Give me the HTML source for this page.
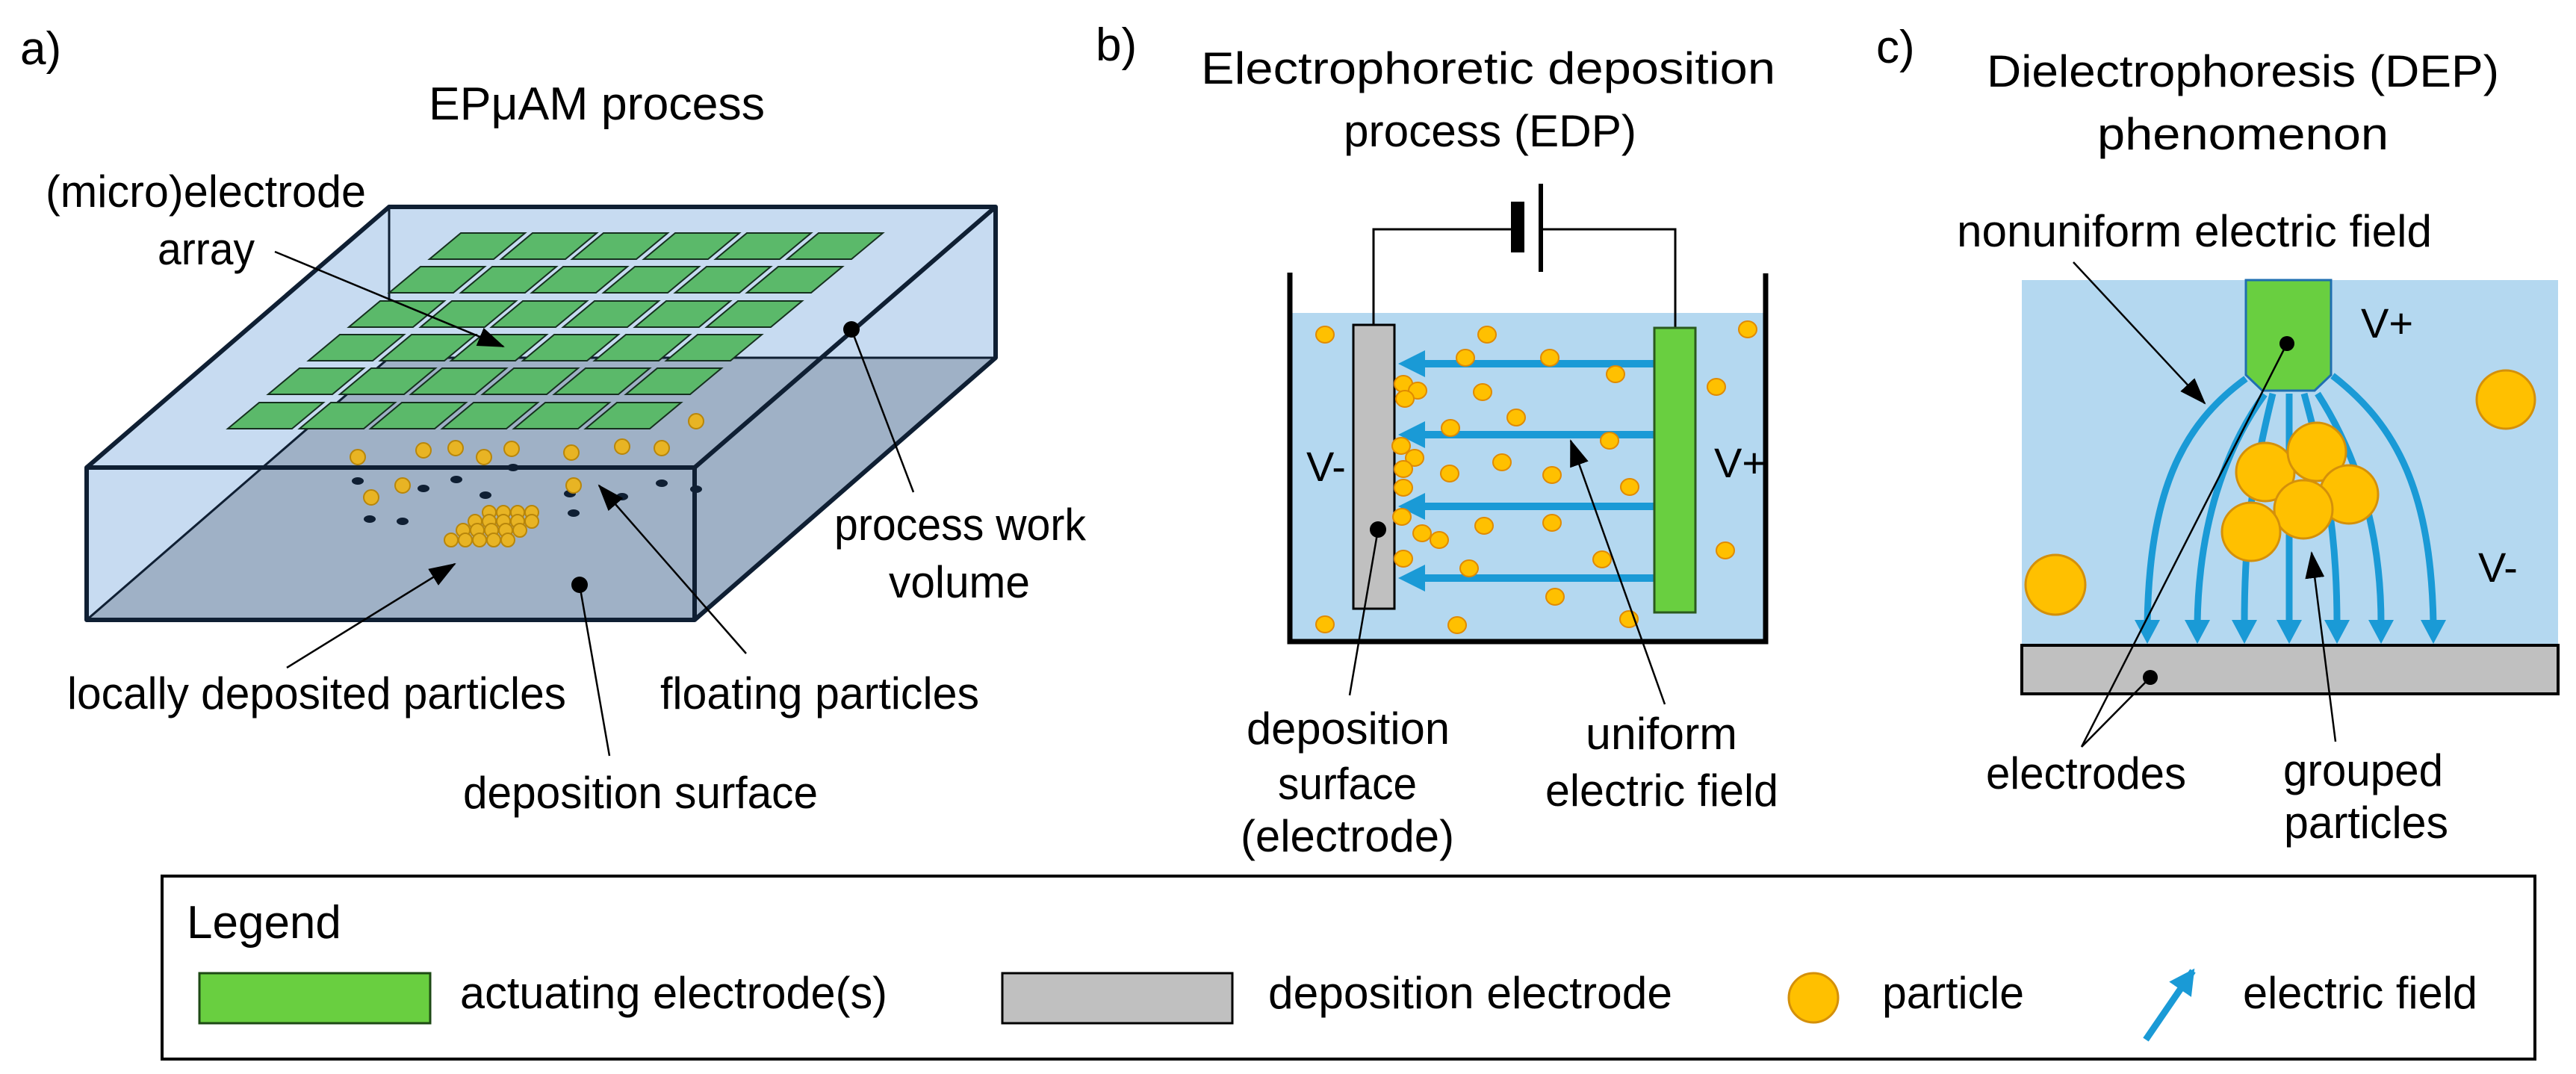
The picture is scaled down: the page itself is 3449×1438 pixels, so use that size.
<!DOCTYPE html>
<html><head><meta charset="utf-8"><style>
html,body{margin:0;padding:0;background:#fff;}
svg{display:block;}
text{font-family:"Liberation Sans",sans-serif;fill:#000;}
</style></head><body>
<svg width="3449" height="1438" viewBox="0 0 3449 1438" xmlns="http://www.w3.org/2000/svg">
<defs>
<marker id="ah" markerUnits="userSpaceOnUse" markerWidth="40" markerHeight="30" refX="34" refY="13" orient="auto">
<path d="M0,0 L36,13 L0,26 Z" fill="#000"/></marker>
<marker id="bh" markerUnits="userSpaceOnUse" markerWidth="40" markerHeight="40" refX="30" refY="18" orient="auto">
<path d="M0,0 L34,18 L0,36 Z" fill="#1a9ad6"/></marker>
</defs>

<!-- ========== Panel a ========== -->
<text x="27" y="86" font-size="62">a)</text>
<text x="574" y="160" font-size="62" textLength="450" lengthAdjust="spacingAndGlyphs">EPμAM process</text>

<polygon points="116,626 521,277 1333,277 1333,479 930,830 116,830" fill="#c7dbf1"/>
<polygon points="116,830 930,830 1333,479 521,479" fill="#9fb1c6"/>
<line x1="521" y1="479" x2="1333" y2="479" stroke="#0f1f33" stroke-width="3"/>
<line x1="116" y1="830" x2="521" y2="479" stroke="#0f1f33" stroke-width="3"/>
<line x1="521" y1="277" x2="521" y2="420" stroke="#0f1f33" stroke-width="3"/>

<g fill="#5bb96a" stroke="#16301f" stroke-width="2">
<!-- grid generated rows -->
<polygon points="617,312 703,312 661,347 575,347"/><polygon points="713,312 799,312 757,347 671,347"/><polygon points="808,312 894,312 852,347 766,347"/><polygon points="904,312 990,312 948,347 862,347"/><polygon points="1000,312 1086,312 1044,347 958,347"/><polygon points="1096,312 1182,312 1140,347 1054,347"/>
<polygon points="563,357 649,357 607,392 521,392"/><polygon points="659,357 745,357 703,392 617,392"/><polygon points="754,357 840,357 798,392 712,392"/><polygon points="850,357 936,357 894,392 808,392"/><polygon points="946,357 1032,357 990,392 904,392"/><polygon points="1042,357 1128,357 1086,392 1000,392"/>
<polygon points="509,403 595,403 553,438 467,438"/><polygon points="605,403 691,403 649,438 563,438"/><polygon points="700,403 786,403 744,438 658,438"/><polygon points="796,403 882,403 840,438 754,438"/><polygon points="892,403 978,403 936,438 850,438"/><polygon points="988,403 1074,403 1032,438 946,438"/>
<polygon points="455,448 541,448 499,483 413,483"/><polygon points="551,448 637,448 595,483 509,483"/><polygon points="646,448 732,448 690,483 604,483"/><polygon points="742,448 828,448 786,483 700,483"/><polygon points="838,448 924,448 882,483 796,483"/><polygon points="934,448 1020,448 978,483 892,483"/>
<polygon points="401,493 487,493 445,528 359,528"/><polygon points="497,493 583,493 541,528 455,528"/><polygon points="592,493 678,493 636,528 550,528"/><polygon points="688,493 774,493 732,528 646,528"/><polygon points="784,493 870,493 828,528 742,528"/><polygon points="880,493 966,493 924,528 838,528"/>
<polygon points="347,539 433,539 391,574 305,574"/><polygon points="443,539 529,539 487,574 401,574"/><polygon points="538,539 624,539 582,574 496,574"/><polygon points="634,539 720,539 678,574 592,574"/><polygon points="730,539 816,539 774,574 688,574"/><polygon points="826,539 912,539 870,574 784,574"/>
</g>

<g fill="#0f1f33">
<ellipse cx="479" cy="644" rx="8" ry="5"/><ellipse cx="567" cy="654" rx="8" ry="5"/><ellipse cx="611" cy="642" rx="8" ry="5"/><ellipse cx="650" cy="663" rx="8" ry="5"/><ellipse cx="763" cy="661" rx="8" ry="5"/><ellipse cx="833" cy="665" rx="8" ry="5"/><ellipse cx="886" cy="647" rx="8" ry="5"/><ellipse cx="932" cy="655" rx="8" ry="5"/><ellipse cx="495" cy="695" rx="8" ry="5"/><ellipse cx="539" cy="698" rx="8" ry="5"/><ellipse cx="768" cy="687" rx="8" ry="5"/><ellipse cx="687" cy="626" rx="8" ry="5"/>
</g>
<g fill="#e8b424" stroke="#b8860b" stroke-width="2">
<circle cx="479" cy="612" r="10"/><circle cx="567" cy="603" r="10"/><circle cx="610" cy="600" r="10"/><circle cx="648" cy="612" r="10"/><circle cx="685" cy="601" r="10"/><circle cx="765" cy="606" r="10"/><circle cx="833" cy="598" r="10"/><circle cx="886" cy="600" r="10"/><circle cx="932" cy="564" r="10"/><circle cx="497" cy="666" r="10"/><circle cx="539" cy="650" r="10"/><circle cx="768" cy="650" r="10"/>
<circle cx="655" cy="686" r="9"/><circle cx="674" cy="686" r="9"/><circle cx="693" cy="686" r="9"/><circle cx="712" cy="686" r="9"/>
<circle cx="636" cy="698" r="9"/><circle cx="655" cy="698" r="9"/><circle cx="674" cy="698" r="9"/><circle cx="693" cy="698" r="9"/><circle cx="712" cy="698" r="9"/>
<circle cx="620" cy="710" r="9"/><circle cx="639" cy="710" r="9"/><circle cx="658" cy="710" r="9"/><circle cx="677" cy="710" r="9"/><circle cx="696" cy="710" r="9"/>
<circle cx="604" cy="723" r="9"/><circle cx="623" cy="723" r="9"/><circle cx="642" cy="723" r="9"/><circle cx="661" cy="723" r="9"/><circle cx="680" cy="723" r="9"/>
</g>

<g fill="none" stroke="#0f1f33" stroke-width="6" stroke-linejoin="round">
<rect x="116" y="626" width="814" height="204"/>
<polyline points="116,626 521,277 1333,277 930,626"/>
<polyline points="1333,277 1333,479 930,830"/>
</g>

<!-- panel a labels -->
<text x="61" y="277" font-size="60" textLength="429" lengthAdjust="spacingAndGlyphs">(micro)electrode</text>
<text x="211" y="354" font-size="60" textLength="130" lengthAdjust="spacingAndGlyphs">array</text>
<line x1="368" y1="337" x2="674" y2="464" stroke="#000" stroke-width="2.5" marker-end="url(#ah)"/>
<text x="90" y="949" font-size="60" textLength="668" lengthAdjust="spacingAndGlyphs">locally deposited particles</text>
<line x1="384" y1="894" x2="609" y2="755" stroke="#000" stroke-width="2.5" marker-end="url(#ah)"/>
<text x="884" y="949" font-size="60" textLength="427" lengthAdjust="spacingAndGlyphs">floating particles</text>
<line x1="999" y1="875" x2="802" y2="650" stroke="#000" stroke-width="2.5" marker-end="url(#ah)"/>
<text x="620" y="1082" font-size="60" textLength="475" lengthAdjust="spacingAndGlyphs">deposition surface</text>
<line x1="816" y1="1012" x2="776" y2="783" stroke="#000" stroke-width="2.5"/>
<circle cx="776" cy="783" r="11" fill="#000"/>
<text x="1117" y="723" font-size="60" textLength="337" lengthAdjust="spacingAndGlyphs">process work</text>
<text x="1190" y="800" font-size="60" textLength="189" lengthAdjust="spacingAndGlyphs">volume</text>
<line x1="1140" y1="441" x2="1223" y2="659" stroke="#000" stroke-width="2.5"/>
<circle cx="1140" cy="441" r="11" fill="#000"/>

<!-- ========== Panel b ========== -->
<text x="1467" y="81" font-size="62">b)</text>
<text x="1608" y="112" font-size="60" textLength="769" lengthAdjust="spacingAndGlyphs">Electrophoretic deposition</text>
<text x="1799" y="196" font-size="60" textLength="392" lengthAdjust="spacingAndGlyphs">process (EDP)</text>

<rect x="1727" y="419" width="637" height="440" fill="#b4d8f0"/>
<polyline points="1727,365 1727,859 2364,859 2364,366" fill="none" stroke="#000" stroke-width="7"/>
<polyline points="1839,435 1839,307 2023,307" fill="none" stroke="#000" stroke-width="3"/>
<polyline points="2063,307 2243,307 2243,439" fill="none" stroke="#000" stroke-width="3"/>
<rect x="2023" y="270" width="18" height="68" fill="#000"/>
<rect x="2060" y="246" width="6" height="118" fill="#000"/>

<g fill="#1a9ad6">
<rect x="1900" y="482" width="314" height="10"/><polygon points="1872,487 1908,469 1908,505"/>
<rect x="1900" y="577" width="314" height="10"/><polygon points="1872,582 1908,564 1908,600"/>
<rect x="1900" y="673" width="314" height="10"/><polygon points="1872,678 1908,660 1908,696"/>
<rect x="1900" y="769" width="314" height="10"/><polygon points="1872,774 1908,756 1908,792"/>
</g>
<rect x="1812" y="435" width="55" height="380" fill="#c0c0c0" stroke="#000" stroke-width="3"/>
<rect x="2215" y="439" width="55" height="381" fill="#69cf40" stroke="#2a5a1e" stroke-width="3"/>

<g fill="#ffc000" stroke="#e08a00" stroke-width="2">
<ellipse cx="1774" cy="448" rx="12" ry="11"/><ellipse cx="1991" cy="448" rx="12" ry="11"/><ellipse cx="1962" cy="479" rx="12" ry="11"/><ellipse cx="2075" cy="479" rx="12" ry="11"/><ellipse cx="2163" cy="501" rx="12" ry="11"/><ellipse cx="2340" cy="441" rx="12" ry="11"/><ellipse cx="1879" cy="514" rx="12" ry="11"/><ellipse cx="1898" cy="523" rx="12" ry="11"/><ellipse cx="1881" cy="534" rx="12" ry="11"/><ellipse cx="1985" cy="525" rx="12" ry="11"/><ellipse cx="2298" cy="518" rx="12" ry="11"/><ellipse cx="2030" cy="559" rx="12" ry="11"/><ellipse cx="1942" cy="573" rx="12" ry="11"/><ellipse cx="2155" cy="590" rx="12" ry="11"/><ellipse cx="1876" cy="597" rx="12" ry="11"/><ellipse cx="1894" cy="613" rx="12" ry="11"/><ellipse cx="2011" cy="619" rx="12" ry="11"/><ellipse cx="1879" cy="628" rx="12" ry="11"/><ellipse cx="1941" cy="634" rx="12" ry="11"/><ellipse cx="2078" cy="636" rx="12" ry="11"/><ellipse cx="2182" cy="652" rx="12" ry="11"/><ellipse cx="1879" cy="653" rx="12" ry="11"/><ellipse cx="1877" cy="692" rx="12" ry="11"/><ellipse cx="1904" cy="714" rx="12" ry="11"/><ellipse cx="1927" cy="723" rx="12" ry="11"/><ellipse cx="1987" cy="704" rx="12" ry="11"/><ellipse cx="2078" cy="700" rx="12" ry="11"/><ellipse cx="2310" cy="737" rx="12" ry="11"/><ellipse cx="1879" cy="748" rx="12" ry="11"/><ellipse cx="1967" cy="761" rx="12" ry="11"/><ellipse cx="2145" cy="749" rx="12" ry="11"/><ellipse cx="2082" cy="799" rx="12" ry="11"/><ellipse cx="1774" cy="836" rx="12" ry="11"/><ellipse cx="1951" cy="837" rx="12" ry="11"/><ellipse cx="2181" cy="829" rx="12" ry="11"/>
</g>
<text x="1749" y="644" font-size="56">V-</text>
<text x="2295" y="639" font-size="56">V+</text>
<circle cx="1845" cy="709" r="11" fill="#000"/>
<line x1="1845" y1="709" x2="1807" y2="931" stroke="#000" stroke-width="2.5"/>
<line x1="2229" y1="943" x2="2103" y2="590" stroke="#000" stroke-width="2.5" marker-end="url(#ah)"/>
<text x="1669" y="996" font-size="60" textLength="272" lengthAdjust="spacingAndGlyphs">deposition</text>
<text x="1711" y="1070" font-size="60" textLength="186" lengthAdjust="spacingAndGlyphs">surface</text>
<text x="1661" y="1140" font-size="60" textLength="286" lengthAdjust="spacingAndGlyphs">(electrode)</text>
<text x="2123" y="1003" font-size="60" textLength="203" lengthAdjust="spacingAndGlyphs">uniform</text>
<text x="2069" y="1079" font-size="60" textLength="312" lengthAdjust="spacingAndGlyphs">electric field</text>

<!-- ========== Panel c ========== -->
<text x="2512" y="84" font-size="62">c)</text>
<text x="2660" y="116" font-size="60" textLength="686" lengthAdjust="spacingAndGlyphs">Dielectrophoresis (DEP)</text>
<text x="2808" y="200" font-size="60" textLength="390" lengthAdjust="spacingAndGlyphs">phenomenon</text>
<text x="2620" y="330" font-size="60" textLength="636" lengthAdjust="spacingAndGlyphs">nonuniform electric field</text>

<rect x="2707" y="375" width="718" height="490" fill="#b4d8f0"/>
<g fill="none" stroke="#1a9ad6" stroke-width="9">
<path d="M3007,507 C2920,570 2878,660 2875,835"/>
<path d="M3032,528 C2980,600 2944,700 2942,835"/>
<path d="M3043,527 C3020,620 3005,700 3005,835"/>
<path d="M3065,527 L3065,835"/>
<path d="M3085,527 C3110,620 3129,700 3129,835"/>
<path d="M3103,527 C3150,600 3188,700 3188,835"/>
<path d="M3123,503 C3210,570 3255,660 3258,835"/>
</g>
<g fill="#1a9ad6">
<polygon points="2858,830 2892,830 2875,862"/><polygon points="2925,830 2959,830 2942,862"/><polygon points="2988,830 3022,830 3005,862"/><polygon points="3048,830 3082,830 3065,862"/><polygon points="3112,830 3146,830 3129,862"/><polygon points="3171,830 3205,830 3188,862"/><polygon points="3241,830 3275,830 3258,862"/>
</g>
<rect x="2707" y="864" width="718" height="65" fill="#c0c0c0" stroke="#000" stroke-width="4"/>
<polygon points="3007,375 3121,375 3121,502 3099,523 3029,523 3007,502" fill="#69cf40" stroke="#1f6fb0" stroke-width="3"/>
<g fill="#ffc000" stroke="#d4900a" stroke-width="3">
<circle cx="3355" cy="535" r="39"/><circle cx="2752" cy="783" r="40"/>
<circle cx="3033" cy="632" r="39"/><circle cx="3102" cy="605" r="39"/><circle cx="3145" cy="662" r="39"/><circle cx="3084" cy="682" r="39"/><circle cx="3014" cy="712" r="39"/>
</g>
<text x="3161" y="452" font-size="56">V+</text>
<text x="3318" y="779" font-size="56">V-</text>
<circle cx="3062" cy="460" r="10" fill="#000"/>
<circle cx="2879" cy="907" r="10" fill="#000"/>
<line x1="2787" y1="1000" x2="3062" y2="460" stroke="#000" stroke-width="2.5"/>
<line x1="2787" y1="1000" x2="2879" y2="907" stroke="#000" stroke-width="2.5"/>
<line x1="2776" y1="351" x2="2952" y2="540" stroke="#000" stroke-width="2.5" marker-end="url(#ah)"/>
<line x1="3127" y1="993" x2="3095" y2="740" stroke="#000" stroke-width="2.5" marker-end="url(#ah)"/>
<text x="2659" y="1056" font-size="60" textLength="268" lengthAdjust="spacingAndGlyphs">electrodes</text>
<text x="3057" y="1052" font-size="60" textLength="214" lengthAdjust="spacingAndGlyphs">grouped</text>
<text x="3058" y="1122" font-size="60" textLength="220" lengthAdjust="spacingAndGlyphs">particles</text>

<!-- ========== Legend ========== -->
<rect x="217" y="1173" width="3177" height="245" fill="none" stroke="#000" stroke-width="4"/>
<text x="250" y="1256" font-size="62">Legend</text>
<rect x="267" y="1303" width="309" height="67" fill="#69cf40" stroke="#1d4a14" stroke-width="3"/>
<text x="616" y="1350" font-size="60" textLength="572" lengthAdjust="spacingAndGlyphs">actuating electrode(s)</text>
<rect x="1342" y="1303" width="308" height="67" fill="#c0c0c0" stroke="#000" stroke-width="3"/>
<text x="1698" y="1350" font-size="60" textLength="541" lengthAdjust="spacingAndGlyphs">deposition electrode</text>
<circle cx="2428" cy="1336" r="33" fill="#ffc000" stroke="#d4900a" stroke-width="3"/>
<text x="2520" y="1350" font-size="60" textLength="190" lengthAdjust="spacingAndGlyphs">particle</text>
<line x1="2873" y1="1392" x2="2936" y2="1300" stroke="#1a9ad6" stroke-width="9" marker-end="url(#bh)"/>
<text x="3003" y="1350" font-size="60" textLength="314" lengthAdjust="spacingAndGlyphs">electric field</text>
</svg>
</body></html>
